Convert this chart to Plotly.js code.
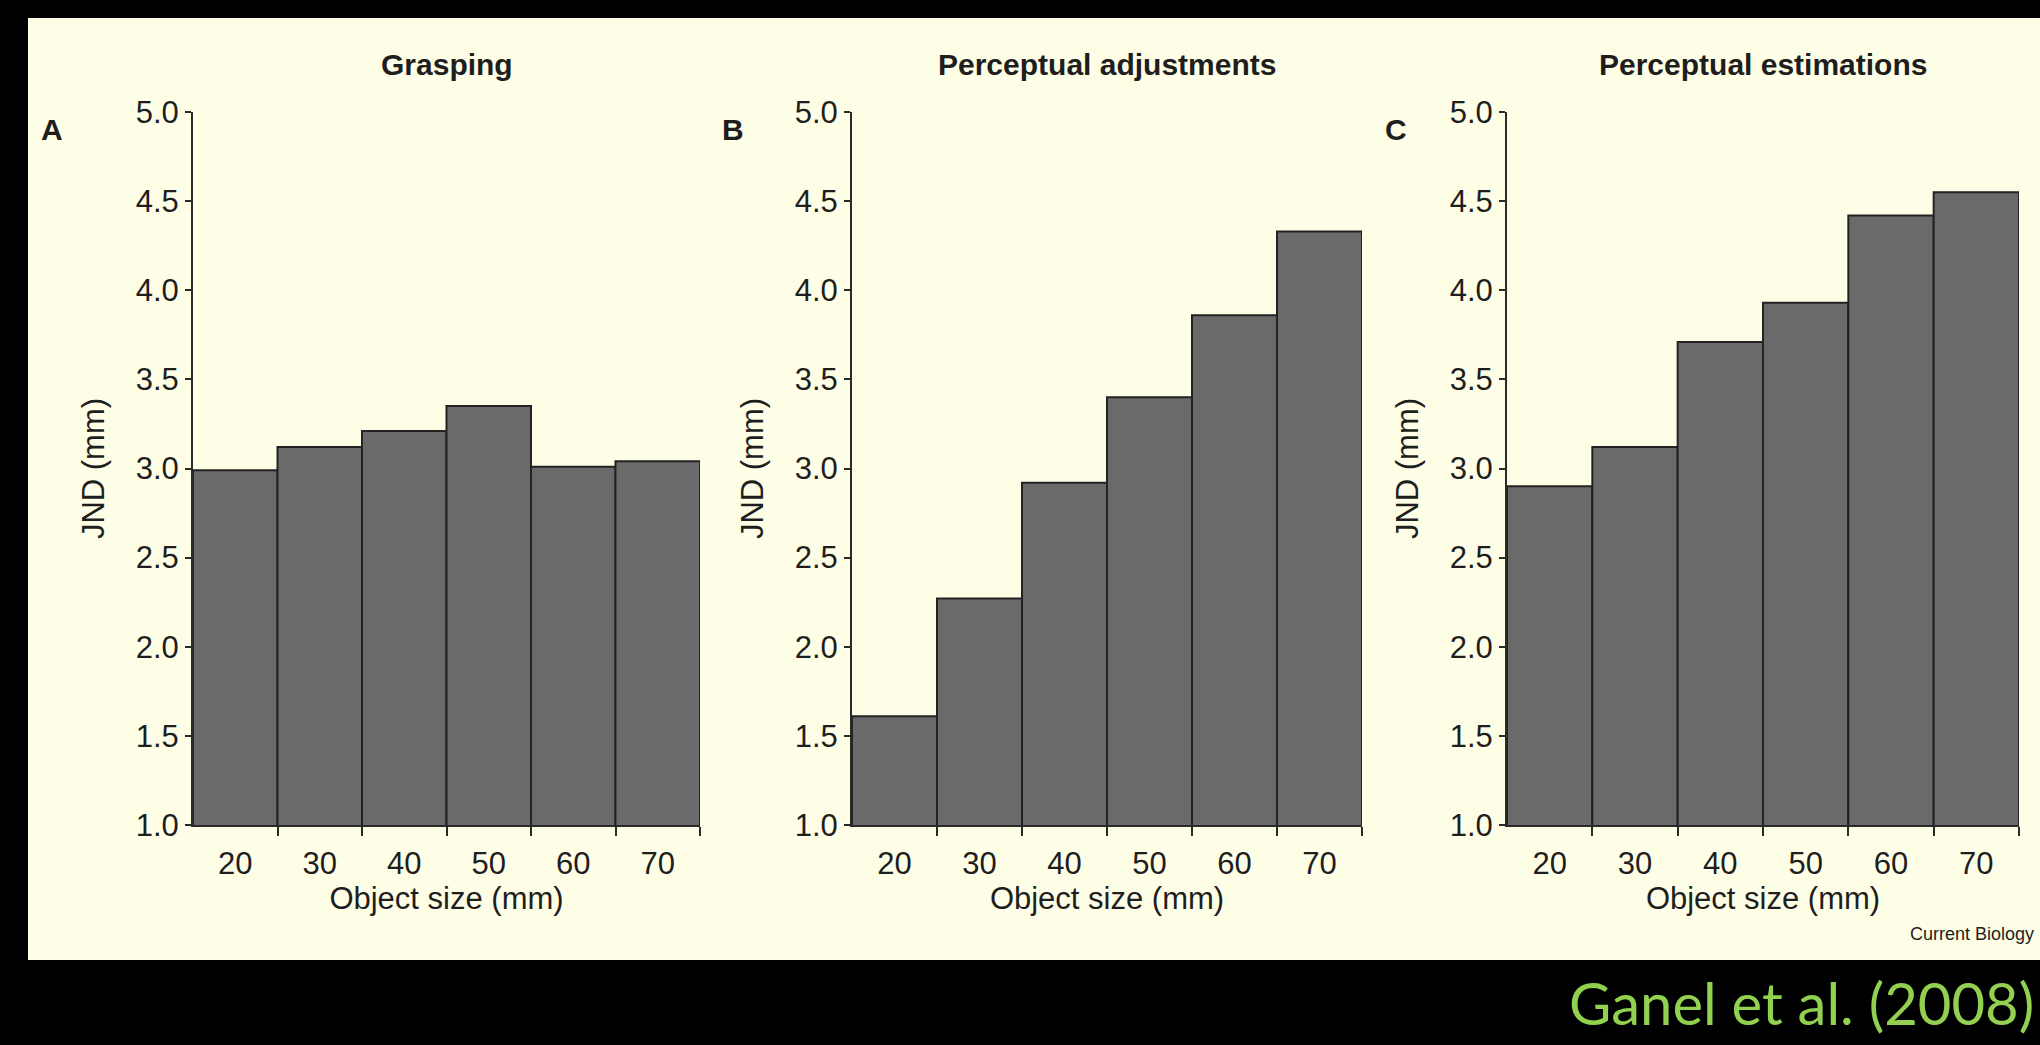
<!DOCTYPE html>
<html>
<head>
<meta charset="utf-8">
<script src="https://cdn.plot.ly/plotly-3.0.1.min.js"></script>
<style>
  html, body { margin: 0; padding: 0; background: #000; }
  #chart { width: 2040px; height: 1045px; }
</style>
</head>
<body>
<div id="chart"></div>
<script>
// ---- data ----
const objectSizes = [20, 30, 40, 50, 60, 70];
const sizeLabels = ['20', '30', '40', '50', '60', '70'];
const graspingJND = [2.99, 3.12, 3.21, 3.35, 3.01, 3.04];
const adjustmentsJND = [1.61, 2.27, 2.92, 3.40, 3.86, 4.33];
const estimationsJND = [2.90, 3.12, 3.71, 3.93, 4.42, 4.55];
const yTickVals = [1.0, 1.5, 2.0, 2.5, 3.0, 3.5, 4.0, 4.5, 5.0];
const yTickText = ['1.0', '1.5', '2.0', '2.5', '3.0', '3.5', '4.0', '4.5', '5.0'];
const binBounds = [25, 35, 45, 55, 65, 75];
const panelTitles = ['Grasping', 'Perceptual adjustments', 'Perceptual estimations'];
const panelLetters = ['A', 'B', 'C'];
const yTitle = 'JND (mm)';
const xTitle = 'Object size (mm)';

// ---- layout helpers ----
const W = 2040, H = 1045;
const px = v => v / W;
const py = v => 1 - v / H;
const FONT = 'Liberation Sans, Arial, Helvetica, sans-serif';
const TXT = '#1e1e1e';

const panels = [
  { x0: 193, x1: 700, letterX: 52, series: graspingJND },
  { x0: 852, x1: 1362, letterX: 733, series: adjustmentsJND },
  { x0: 1507, x1: 2019, letterX: 1396, series: estimationsJND }
];
const yTop = 112, yBot = 825;

const traces = panels.map((p, i) => ({
  type: 'bar',
  x: objectSizes,
  y: p.series,
  width: 10,
  xaxis: i === 0 ? 'x' : 'x' + (i + 1),
  yaxis: i === 0 ? 'y' : 'y' + (i + 1),
  marker: { color: '#6a6a6a', line: { color: '#222222', width: 2 } },
  hoverinfo: 'x+y',
  showlegend: false
}));

const layout = {
  width: W, height: H,
  margin: { l: 0, r: 0, t: 0, b: 0 },
  paper_bgcolor: '#000000',
  plot_bgcolor: '#ffffff',
  bargap: 0,
  font: { family: FONT, size: 30, color: TXT },
  shapes: [
    { type: 'rect', xref: 'paper', yref: 'paper', layer: 'below',
      x0: px(28), x1: px(2040), y0: py(960), y1: py(18),
      fillcolor: '#fefee6', line: { width: 0 } }
  ],
  annotations: []
};

panels.forEach((p, i) => {
  const sx = i === 0 ? '' : String(i + 1);
  layout['xaxis' + sx] = {
    domain: [px(p.x0), px(p.x1)],
    anchor: 'y' + sx,
    range: [15, 75],
    fixedrange: true,
    showgrid: false, zeroline: false,
    showline: true, linecolor: '#2a2a2a', linewidth: 2,
    tickmode: 'array', tickvals: objectSizes, ticktext: sizeLabels,
    ticks: 'outside', ticklen: 10, tickcolor: 'rgba(0,0,0,0)',
    tickfont: { family: FONT, size: 31, color: TXT },
    minor: { tickmode: 'array', tickvals: binBounds, ticks: 'outside', ticklen: 9,
             tickwidth: 2, tickcolor: '#2a2a2a', showgrid: false },
    title: { text: xTitle, standoff: 3, font: { family: FONT, size: 31, color: TXT } }
  };
  layout['yaxis' + sx] = {
    domain: [py(yBot), py(yTop)],
    anchor: 'x' + sx,
    range: [1, 5],
    fixedrange: true,
    showgrid: false, zeroline: false,
    showline: true, linecolor: '#2a2a2a', linewidth: 2,
    tickmode: 'array', tickvals: yTickVals, ticktext: yTickText,
    ticks: 'outside', ticklen: 6, tickwidth: 2, tickcolor: '#2a2a2a',
    tickfont: { family: FONT, size: 31, color: TXT },
    title: { text: yTitle, standoff: 22, font: { family: FONT, size: 31, color: TXT } }
  };
  layout.annotations.push({
    xref: 'paper', yref: 'paper',
    x: px((p.x0 + p.x1) / 2), y: py(65),
    xanchor: 'center', yanchor: 'middle', showarrow: false,
    text: '<b>' + panelTitles[i] + '</b>',
    font: { family: FONT, size: 30, color: TXT }
  });
  layout.annotations.push({
    xref: 'paper', yref: 'paper',
    x: px(p.letterX), y: py(130),
    xanchor: 'center', yanchor: 'middle', showarrow: false,
    text: '<b>' + panelLetters[i] + '</b>',
    font: { family: FONT, size: 30, color: TXT }
  });
});

layout.annotations.push({
  xref: 'paper', yref: 'paper', x: px(2036), y: py(934),
  xanchor: 'right', yanchor: 'middle', showarrow: false,
  text: 'Current Biology', font: { family: FONT, size: 18, color: TXT }
});
layout.annotations.push({
  xref: 'paper', yref: 'paper', x: px(2036), y: py(1002),
  xanchor: 'right', yanchor: 'middle', showarrow: false,
  text: 'Ganel et al. (2008)', font: { family: 'Lato, Open Sans, sans-serif', size: 58, color: '#92d050' }
});

Plotly.newPlot('chart', traces, layout, { displayModeBar: false, staticPlot: true });
</script>
</body>
</html>
